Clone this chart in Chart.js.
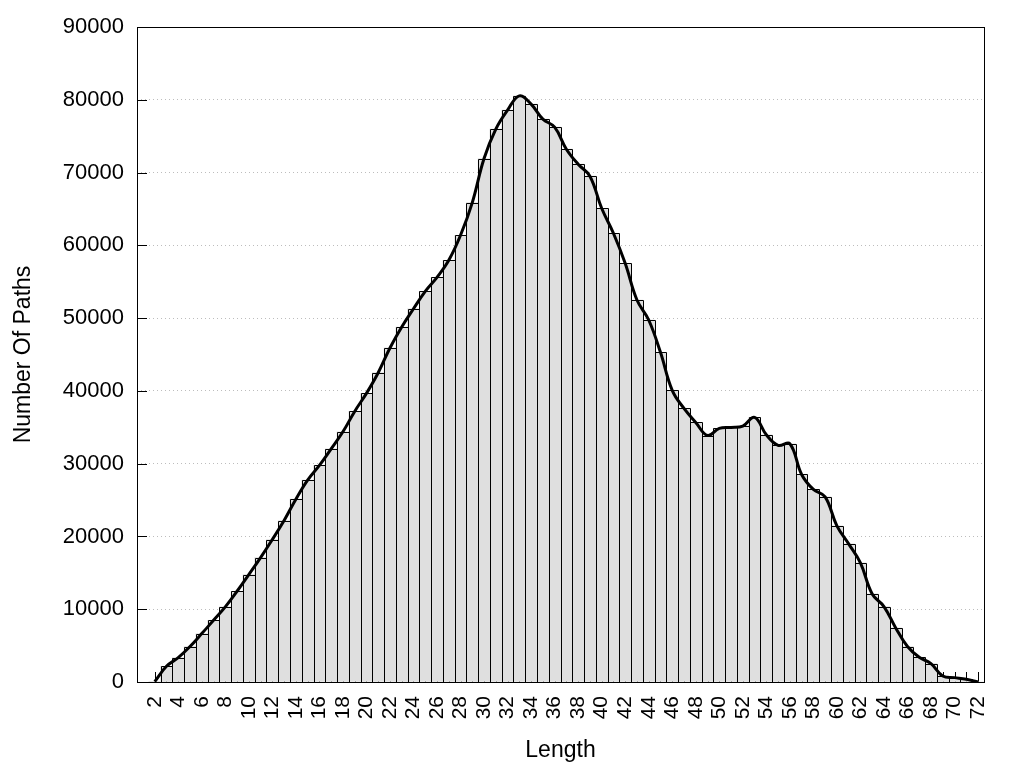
<!DOCTYPE html>
<html>
<head>
<meta charset="utf-8">
<script src="https://cdn.jsdelivr.net/npm/chart.js@4/dist/chart.umd.min.js"></script>
<style>
html,body{margin:0;padding:0;background:#fff;}
canvas{display:block;}
</style>
</head>
<body>
<canvas id="c" width="1024" height="768"></canvas>
<script>
const lengths = [2,3,4,5,6,7,8,9,10,11,12,13,14,15,16,17,18,19,20,21,22,23,24,25,26,27,28,29,30,31,32,33,34,35,36,37,38,39,40,41,42,43,44,45,46,47,48,49,50,51,52,53,54,55,56,57,58,59,60,61,62,63,64,65,66,67,68,69,70,71,72];
const pathCounts = [60,2160,3350,4870,6650,8480,10320,12470,14760,17100,19580,22190,25120,27740,29760,32040,34380,37180,39660,42500,45900,48780,51290,53680,55600,57940,61380,65870,71920,75960,78570,80540,79400,77340,76240,73210,71150,69500,65100,61660,57530,52490,49740,45300,40070,37590,35660,33870,34840,34980,35160,36360,33970,32510,32730,28520,26460,25440,21450,18980,16370,12100,10370,7430,4870,3400,2530,830,600,370,0];
const yTicks = [0,10000,20000,30000,40000,50000,60000,70000,80000,90000];
const xLabelStep = 2;
const xTitle = 'Length';
const yTitle = 'Number Of Paths';

const points = lengths.map((x, i) => ({x: x, y: pathCounts[i]}));
const FONT = "'Liberation Sans', Arial, sans-serif";

const framePlugin = {
  id: 'frame',
  beforeDatasetsDraw(chart) {
    const ctx = chart.ctx, a = chart.chartArea;
    const xs = chart.scales.x, ys = chart.scales.y;
    ctx.save();
    ctx.strokeStyle = '#000';
    ctx.lineWidth = 1;
    ctx.beginPath();
    yTicks.forEach(v => {
      const py = Math.round(ys.getPixelForValue(v)) + 0.5;
      ctx.moveTo(a.left, py); ctx.lineTo(a.left + 10, py);
    });
    lengths.forEach(v => {
      const px = Math.round(xs.getPixelForValue(v)) + 0.5;
      ctx.moveTo(px, a.bottom); ctx.lineTo(px, a.bottom - 10);
    });
    ctx.stroke();
    ctx.restore();
  },
  afterDatasetDraw(chart, args) {
    const meta = args.meta;
    if (meta.type !== 'bar') return;
    const ctx = chart.ctx;
    ctx.save();
    ctx.strokeStyle = '#000';
    ctx.lineWidth = 1;
    ctx.beginPath();
    meta.data.forEach(el => {
      const p = el.getProps(['x', 'y', 'base', 'width'], true);
      if (Math.abs(p.base - p.y) < 0.5) return;
      const l = Math.round(p.x - p.width / 2) + 0.5;
      const r = Math.round(p.x + p.width / 2) + 0.5;
      const t = Math.round(p.y) + 0.5;
      const b = Math.round(p.base);
      ctx.moveTo(l, b); ctx.lineTo(l, t); ctx.lineTo(r, t); ctx.lineTo(r, b);
    });
    ctx.stroke();
    ctx.restore();
  },
  afterDraw(chart) {
    const ctx = chart.ctx, a = chart.chartArea;
    ctx.save();
    ctx.strokeStyle = '#000';
    ctx.lineWidth = 1;
    ctx.strokeRect(Math.round(a.left) + 0.5, Math.round(a.top) + 0.5,
                   Math.round(a.right) - Math.round(a.left), Math.round(a.bottom) - Math.round(a.top));
    ctx.restore();
  }
};

new Chart(document.getElementById('c'), {
  data: {
    datasets: [
      {
        type: 'line',
        data: points,
        borderColor: '#000',
        borderWidth: 3,
        pointRadius: 0,
        tension: 0.4,
        fill: false,
        order: 0
      },
      {
        type: 'bar',
        data: points,
        backgroundColor: '#dfdfdf',
        borderWidth: 0,
        barPercentage: 1,
        categoryPercentage: 1,
        order: 1
      }
    ]
  },
  options: {
    responsive: false,
    animation: false,
    layout: {padding: {top: 27, right: 40, left: 0, bottom: 0}},
    plugins: {legend: {display: false}, tooltip: {enabled: false}},
    scales: {
      x: {
        type: 'linear',
        min: 1,
        max: 72,
        afterFit(s) { s.height = 86; },
        afterBuildTicks(s) { s.ticks = lengths.map(v => ({value: v})); },
        grid: {display: false, drawTicks: false},
        border: {display: false},
        ticks: {
          autoSkip: false,
          maxRotation: 90,
          minRotation: 90,
          padding: 14,
          color: '#000',
          font: {family: FONT, size: 21},
          callback: v => (v % xLabelStep === 0 ? String(v) : '')
        },
        title: {
          display: true,
          text: xTitle,
          color: '#000',
          font: {family: FONT, size: 23},
          padding: {top: 0, bottom: 4}
        }
      },
      y: {
        type: 'linear',
        min: 0,
        max: 90000,
        afterFit(s) { s.width = 137; },
        afterBuildTicks(s) { s.ticks = yTicks.map(v => ({value: v})); },
        grid: {
          color: '#bdbdbd',
          lineWidth: 1,
          drawTicks: false
        },
        border: {display: false, dash: [1, 3]},
        ticks: {
          padding: 13,
          color: '#000',
          font: {family: FONT, size: 22},
          callback: v => String(v)
        },
        title: {
          display: true,
          text: yTitle,
          color: '#000',
          font: {family: FONT, size: 23},
          padding: {top: 10, bottom: 0}
        }
      }
    }
  },
  plugins: [framePlugin]
});
</script>
</body>
</html>
